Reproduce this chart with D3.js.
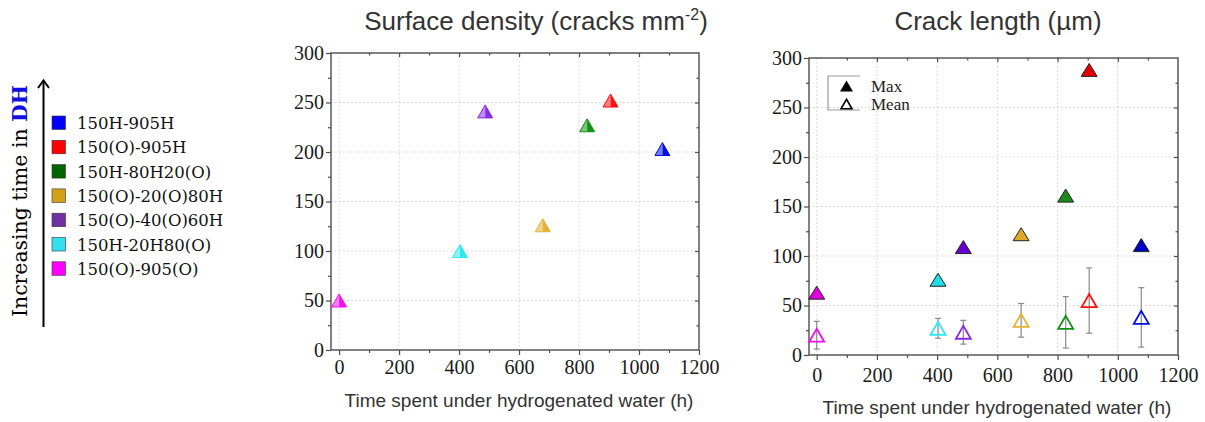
<!DOCTYPE html>
<html>
<head>
<meta charset="utf-8">
<script src="https://cdn.jsdelivr.net/npm/d3@7"></script>
<style>
  html, body { margin: 0; padding: 0; background: #fff; }
  svg { display: block; }
</style>
</head>
<body>
<svg id="fig" width="1205" height="422"></svg>
<script>
// Samples, ordered from the longest to the shortest time in hydrogenated water (DH)
const samples = ["150H-905H", "150(O)-905H", "150H-80H20(O)", "150(O)-20(O)80H",
                 "150(O)-40(O)60H", "150H-20H80(O)", "150(O)-905(O)"];
const hoursDH = [1078, 905, 827, 679, 487, 403, 0];
const surfaceDensity = [203, 252, 227, 126, 241, 100, 50];   // cracks mm^-2
const maxLength = [111, 288, 161, 122, 109, 76, 63];          // µm
const meanLength = [38, 55, 33, 35, 23, 27, 20];              // µm
const meanSd = [30, 33, 26, 17, 12, 10, 14];                  // µm

const xTicks = [0, 200, 400, 600, 800, 1000, 1200];
const xMinor = [100, 300, 500, 700, 900, 1100];
const yTicks = [0, 50, 100, 150, 200, 250, 300];
const yMinor = [25, 75, 125, 175, 225, 275];

// colours
const swatch = ["#0000ff", "#ff0000", "#006400", "#d4a017", "#7030a0", "#33e0f0", "#ff00ff"];
const markerCol = ["#0010e0", "#ff1010", "#109010", "#e8b030", "#8a2be2", "#30e8f0", "#f010f0"];
const maxCol = ["#0000c8", "#e00000", "#1a8a1a", "#e0a82a", "#6a00d0", "#20dce8", "#e000e0"];

const svg = d3.select("#fig");
const serif = "'Liberation Serif', 'Times New Roman', serif";
const sans = "'Liberation Sans', Arial, sans-serif";
const legFont = "'DejaVu Serif', serif";

const tri = (w, h) => `M0,${-h / 2}L${w / 2},${h / 2}L${-w / 2},${h / 2}Z`;
const triLeft = (w, h) => `M0,${-h / 2}L0,${h / 2}L${-w / 2},${h / 2}Z`;
const triRight = (w, h) => `M0,${-h / 2}L${w / 2},${h / 2}L0,${h / 2}Z`;

function panel(opt) {
  const x = d3.scaleLinear().domain([opt.xmin, 1200]).range([opt.left, opt.right]);
  const y = d3.scaleLinear().domain([0, 300]).range([opt.bottom, opt.top]);
  const g = svg.append("g");

  // dotted grid
  g.append("g").selectAll("line").data(xTicks.slice(0, -1)).join("line")
    .attr("x1", d => x(d)).attr("x2", d => x(d))
    .attr("y1", opt.top).attr("y2", opt.bottom)
    .attr("stroke", "#d0d0d0").attr("stroke-width", 1).attr("stroke-dasharray", "1.5,2.5");
  g.append("g").selectAll("line").data(yTicks.slice(1, -1)).join("line")
    .attr("x1", opt.left).attr("x2", opt.right)
    .attr("y1", d => y(d)).attr("y2", d => y(d))
    .attr("stroke", "#d0d0d0").attr("stroke-width", 1).attr("stroke-dasharray", "1.5,2.5");

  const styleAxis = sel => {
    sel.select(".domain").remove();
    sel.selectAll(".tick line").attr("stroke", "#4d4d4d").attr("stroke-width", 1.2);
    sel.selectAll(".tick text").attr("font-family", serif).attr("font-size", 20).attr("fill", "#1a1a1a");
  };

  // bottom & left axes with labels
  g.append("g").attr("transform", `translate(0,${opt.bottom})`)
    .call(d3.axisBottom(x).tickValues(xTicks).tickSize(5).tickPadding(opt.xPad).tickFormat(d3.format("d")))
    .call(styleAxis);
  g.append("g").attr("transform", `translate(0,${opt.bottom})`)
    .call(d3.axisBottom(x).tickValues(xMinor).tickSize(3).tickFormat(""))
    .call(styleAxis);
  g.append("g").attr("transform", `translate(${opt.left},0)`)
    .call(d3.axisLeft(y).tickValues(yTicks).tickSize(5).tickPadding(2).tickFormat(d3.format("d")))
    .call(styleAxis);
  g.append("g").attr("transform", `translate(${opt.left},0)`)
    .call(d3.axisLeft(y).tickValues(yMinor).tickSize(3).tickFormat(""))
    .call(styleAxis);
  // top & right axes, ticks only
  g.append("g").attr("transform", `translate(0,${opt.top})`)
    .call(d3.axisBottom(x).tickValues(xTicks.slice(1, -1)).tickSize(4).tickFormat(""))
    .call(styleAxis);
  g.append("g").attr("transform", `translate(0,${opt.top})`)
    .call(d3.axisBottom(x).tickValues(xMinor).tickSize(2.5).tickFormat(""))
    .call(styleAxis);
  g.append("g").attr("transform", `translate(${opt.right},0)`)
    .call(d3.axisLeft(y).tickValues(yTicks.slice(1, -1)).tickSize(4).tickFormat(""))
    .call(styleAxis);
  g.append("g").attr("transform", `translate(${opt.right},0)`)
    .call(d3.axisLeft(y).tickValues(yMinor).tickSize(2.5).tickFormat(""))
    .call(styleAxis);

  // frame
  g.append("rect").attr("x", opt.left).attr("y", opt.top)
    .attr("width", opt.right - opt.left).attr("height", opt.bottom - opt.top)
    .attr("fill", "none").attr("stroke", "#4d4d4d").attr("stroke-width", 1.4);

  // axis title
  g.append("text").attr("x", opt.xLabelX).attr("y", opt.xLabelY)
    .attr("text-anchor", "middle").attr("font-family", sans).attr("font-size", 19)
    .attr("fill", "#333").text("Time spent under hydrogenated water (h)");

  return { g, x, y };
}

// ---- Surface density panel ----
const p1 = panel({ left: 331, right: 699, top: 53, bottom: 350, xmin: -27, xPad: 5,
                   xLabelX: 519, xLabelY: 407 });
const t1 = svg.append("text").attr("x", 536).attr("y", 30).attr("text-anchor", "middle")
  .attr("font-family", sans).attr("font-size", 26).attr("fill", "#333");
t1.append("tspan").text("Surface density (cracks mm");
t1.append("tspan").attr("font-size", 16).attr("dy", -10).text("-2");
t1.append("tspan").attr("dy", 10).text(")");

const dens = p1.g.append("g").selectAll("g").data(samples).join("g")
  .attr("transform", (d, i) => `translate(${p1.x(hoursDH[i])},${p1.y(surfaceDensity[i])})`);
dens.append("path").attr("d", triLeft(15, 13))
  .attr("fill", (d, i) => d3.interpolateRgb(markerCol[i], "#ffffff")(0.45));
dens.append("path").attr("d", triRight(15, 13)).attr("fill", (d, i) => markerCol[i]);
dens.append("path").attr("d", tri(15, 13)).attr("fill", "none")
  .attr("stroke", (d, i) => markerCol[i]).attr("stroke-width", 1);

// ---- Crack length panel ----
const p2 = panel({ left: 809, right: 1178, top: 58, bottom: 355, xmin: -25.6, xPad: 8,
                   xLabelX: 997, xLabelY: 414 });
svg.append("text").attr("x", 998).attr("y", 30).attr("text-anchor", "middle")
  .attr("font-family", sans).attr("font-size", 26).attr("fill", "#333")
  .text("Crack length (µm)");

// error bars on the mean
const eb = p2.g.append("g").selectAll("g").data(samples).join("g")
  .attr("stroke", "#8a8a8a").attr("stroke-width", 1.2);
eb.append("line")
  .attr("x1", (d, i) => p2.x(hoursDH[i])).attr("x2", (d, i) => p2.x(hoursDH[i]))
  .attr("y1", (d, i) => p2.y(meanLength[i] - meanSd[i]))
  .attr("y2", (d, i) => p2.y(meanLength[i] + meanSd[i]));
eb.append("line")
  .attr("x1", (d, i) => p2.x(hoursDH[i]) - 3).attr("x2", (d, i) => p2.x(hoursDH[i]) + 3)
  .attr("y1", (d, i) => p2.y(meanLength[i] - meanSd[i]))
  .attr("y2", (d, i) => p2.y(meanLength[i] - meanSd[i]));
eb.append("line")
  .attr("x1", (d, i) => p2.x(hoursDH[i]) - 3).attr("x2", (d, i) => p2.x(hoursDH[i]) + 3)
  .attr("y1", (d, i) => p2.y(meanLength[i] + meanSd[i]))
  .attr("y2", (d, i) => p2.y(meanLength[i] + meanSd[i]));

// mean: open triangles
p2.g.append("g").selectAll("path").data(samples).join("path")
  .attr("d", tri(15, 13))
  .attr("transform", (d, i) => `translate(${p2.x(hoursDH[i])},${p2.y(meanLength[i])})`)
  .attr("fill", "none").attr("stroke", (d, i) => markerCol[i]).attr("stroke-width", 1.8);

// max: filled triangles
p2.g.append("g").selectAll("path").data(samples).join("path")
  .attr("d", tri(16, 13))
  .attr("transform", (d, i) => `translate(${p2.x(hoursDH[i])},${p2.y(maxLength[i])})`)
  .attr("fill", (d, i) => maxCol[i]).attr("stroke", "#222").attr("stroke-width", 1);

// Max / Mean key
const key = svg.append("g");
key.append("path").attr("d", "M860,76H828V110H860")
  .attr("fill", "none").attr("stroke", "#999").attr("stroke-width", 1.2);
key.append("path").attr("d", tri(13, 11)).attr("transform", "translate(846.5,86)")
  .attr("fill", "#000");
key.append("path").attr("d", tri(11, 9.5)).attr("transform", "translate(846.5,104)")
  .attr("fill", "none").attr("stroke", "#000").attr("stroke-width", 1.6);
key.append("text").attr("x", 871).attr("y", 91.5).attr("font-family", serif)
  .attr("font-size", 17).attr("fill", "#222").text("Max");
key.append("text").attr("x", 871).attr("y", 110).attr("font-family", serif)
  .attr("font-size", 17).attr("fill", "#222").text("Mean");

// ---- sample legend with time arrow ----
const leg = svg.append("g");
leg.append("line").attr("x1", 43.5).attr("x2", 43.5).attr("y1", 81).attr("y2", 327)
  .attr("stroke", "#000").attr("stroke-width", 2);
leg.append("path").attr("d", "M38,88L43.5,80.5L49,88")
  .attr("fill", "none").attr("stroke", "#000").attr("stroke-width", 2);

const vt = leg.append("text").attr("transform", "translate(27,201) rotate(-90)")
  .attr("text-anchor", "middle").attr("font-family", legFont).attr("font-size", 20)
  .attr("fill", "#000").attr("textLength", 232).attr("lengthAdjust", "spacingAndGlyphs");
vt.append("tspan").text("Increasing time in ");
vt.append("tspan").attr("font-weight", "bold").attr("fill", "#1010e0").text("DH");

const rows = leg.append("g").selectAll("g").data(samples).join("g")
  .attr("transform", (d, i) => `translate(0,${123 + i * 24.3})`);
rows.append("rect").attr("x", 52).attr("y", -7).attr("width", 13.5).attr("height", 13.5)
  .attr("fill", (d, i) => swatch[i]).attr("stroke", "#333").attr("stroke-width", 0.6);
rows.append("text").attr("x", 77).attr("y", 6).attr("font-family", legFont)
  .attr("font-size", 16.5).attr("fill", "#111").text(d => d);
</script>
</body>
</html>
